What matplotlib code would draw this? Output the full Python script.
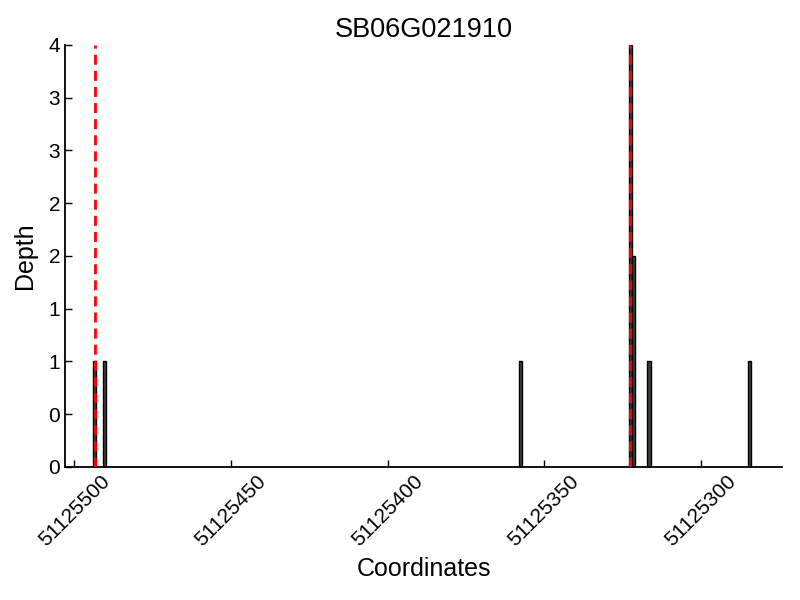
import matplotlib

matplotlib.use("Agg")
import matplotlib.pyplot as plt
import numpy as np
from matplotlib.ticker import FormatStrFormatter

plt.rcParams["font.family"] = ["Liberation Sans", "DejaVu Sans"]

GENE = "SB06G021910"
positions = [51125493, 51125490, 51125357, 51125322, 51125321, 51125316, 51125284]
depths = [1, 1, 1, 4, 2, 1, 1]
gene_bounds = [51125493.5, 51125322.5]
x_ticks = [51125500, 51125450, 51125400, 51125350, 51125300]
y_ticks = np.arange(0, 4.5, 0.5)

fig = plt.figure(figsize=(8, 6), dpi=100)
ax = fig.add_axes([0.08125, 0.2217, 0.8963, 0.7033])

ax.bar(positions, depths, width=1, align="edge", color="#404040",
       edgecolor="black", linewidth=1.0, zorder=2)
for b in gene_bounds:
    ax.axvline(b, color="red", linewidth=2, dashes=(3.6, 2.2), zorder=3)

ax.set_xlim(max(positions) + 10, min(positions) - 10)
ax.set_ylim(0, max(depths))
ax.set_xticks(x_ticks)
ax.set_xticklabels([str(t) for t in x_ticks], rotation=45, ha="center")
ax.set_yticks(y_ticks)
ax.yaxis.set_major_formatter(FormatStrFormatter("%d"))
ax.tick_params(direction="in", length=5, width=1, labelsize=15)
for s in ("top", "right"):
    ax.spines[s].set_visible(False)
for s in ("left", "bottom"):
    ax.spines[s].set_linewidth(1.3)

ax.set_xlabel("Coordinates", fontsize=18, labelpad=5)
ax.set_ylabel("Depth", fontsize=18, labelpad=8)
ax.set_title(GENE, fontsize=19.5, pad=6)

fig.savefig("out.png", dpi=100)
